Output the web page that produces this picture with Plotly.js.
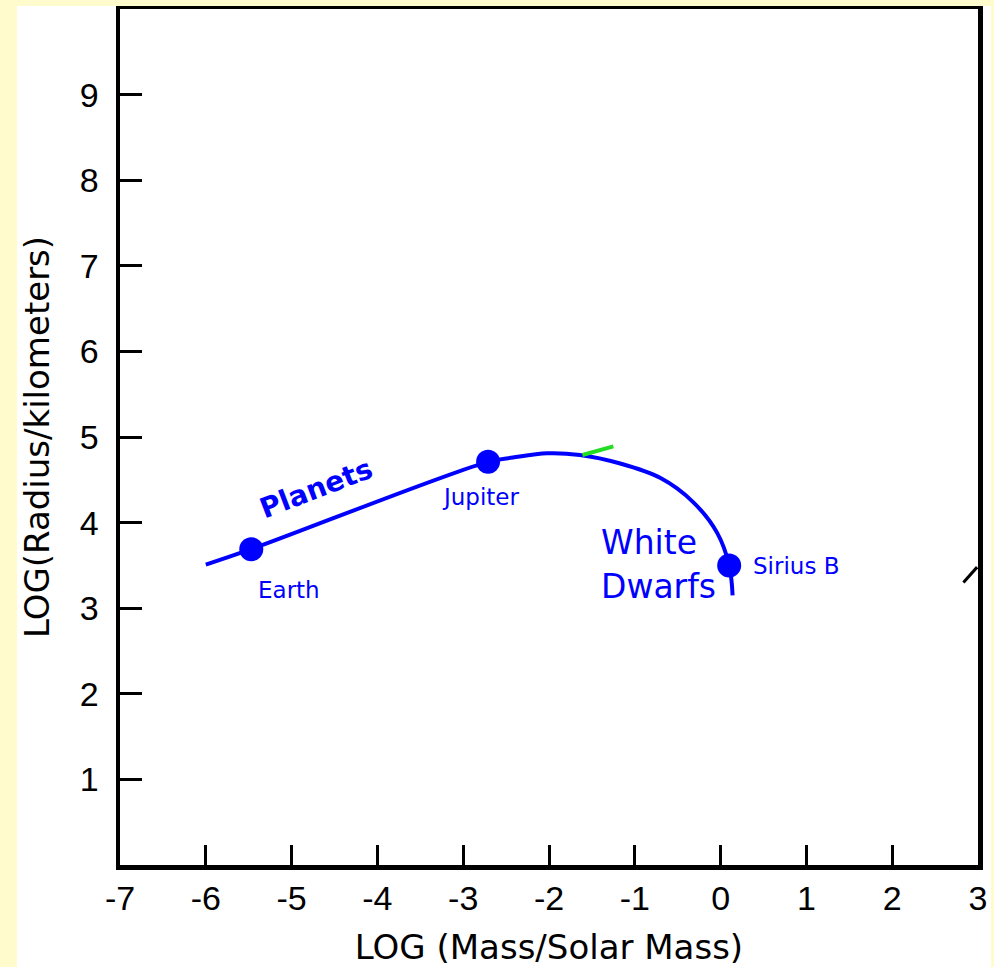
<!DOCTYPE html>
<html>
<head>
<meta charset="utf-8">
<script src="https://cdn.plot.ly/plotly-3.0.1.min.js"></script>
<style>
  html, body { margin: 0; padding: 0; background: #FFFBCC; width: 994px; height: 967px; overflow: hidden; }
  #chart { position: absolute; left: 17px; top: 6px; width: 974px; height: 961px; background: #ffffff; }
</style>
</head>
<body>
<div id="chart"></div>
<script>
// Mass-radius relation (log-log)
const curveX = [-6.0, -5.47, -2.71, -2.42, -2.02, -1.64, -1.17, -0.70, -0.32, -0.04, 0.10, 0.14];
const curveY = [3.51, 3.69, 4.71, 4.76, 4.81, 4.79, 4.69, 4.52, 4.24, 3.88, 3.50, 3.15];

const bodyNames = ['Earth', 'Jupiter', 'Sirius B'];
const bodyX = [-5.47, -2.71, 0.10];
const bodyY = [3.69, 4.71, 3.50];

// label anchor positions (data units)
const bodyLabelX = [-5.03, -2.79, 0.36];
const bodyLabelY = [3.21, 4.30, 3.49];

const regionNames = ['Planets', 'White', 'Dwarfs'];
const regionX = [-4.71, -0.84, -0.72];
const regionY = [4.40, 3.77, 3.25];

const greenX = [-1.61, -1.25];
const greenY = [4.79, 4.89];
const markX = [2.83, 2.99];
const markY = [3.30, 3.48];

const xTicks = [-7, -6, -5, -4, -3, -2, -1, 0, 1, 2, 3];
const yTicks = [1, 2, 3, 4, 5, 6, 7, 8, 9];

const BLUE = '#0000FF';

const traces = [
  { x: curveX, y: curveY, mode: 'lines', line: { color: BLUE, width: 4, shape: 'spline', smoothing: 1 }, hoverinfo: 'skip' },
  { x: greenX, y: greenY, mode: 'lines', line: { color: '#22DD22', width: 4 }, hoverinfo: 'skip' },
  { x: markX, y: markY, mode: 'lines', line: { color: '#000000', width: 3 }, hoverinfo: 'skip' },
  { x: bodyX, y: bodyY, mode: 'markers', marker: { color: BLUE, size: 24 }, text: bodyNames, hoverinfo: 'text' }
];

const annotations = [];
bodyNames.forEach((n, i) => {
  annotations.push({
    x: bodyLabelX[i], y: bodyLabelY[i], xref: 'x', yref: 'y', text: n, showarrow: false,
    xanchor: i === 2 ? 'left' : 'center', yanchor: 'middle',
    font: { family: 'DejaVu Sans', size: 23, color: BLUE }
  });
});
regionNames.forEach((n, i) => {
  annotations.push({
    x: regionX[i], y: regionY[i], xref: 'x', yref: 'y', text: i === 0 ? '<b>' + n + '</b>' : n, showarrow: false,
    xanchor: 'center', yanchor: 'middle', textangle: i === 0 ? -21 : 0,
    font: { family: 'DejaVu Sans', size: i === 0 ? 28 : 33, color: BLUE }
  });
});

const layout = {
  width: 974, height: 961,
  margin: { l: 103, r: 13, t: 3, b: 102 },
  paper_bgcolor: '#ffffff', plot_bgcolor: '#ffffff',
  showlegend: false,
  xaxis: {
    range: [-7, 3], tickvals: xTicks, ticktext: xTicks.map(String),
    ticks: 'inside', ticklen: 20, tickwidth: 3, tickcolor: '#000',
    showline: true, linewidth: 4.5, linecolor: '#000', mirror: true,
    showgrid: false, zeroline: false,
    tickfont: { family: 'Liberation Sans', size: 34, color: '#000' },
    ticklabelstandoff: 0,
    title: { text: 'LOG (Mass/Solar Mass)', font: { family: 'DejaVu Sans', size: 34, color: '#000' }, standoff: 20 }
  },
  yaxis: {
    range: [0, 10], tickvals: yTicks, ticktext: yTicks.map(String),
    ticks: 'inside', ticklen: 22, tickwidth: 3, tickcolor: '#000',
    showline: true, linewidth: 4.5, linecolor: '#000', mirror: true,
    showgrid: false, zeroline: false,
    tickfont: { family: 'Liberation Sans', size: 34, color: '#000' },
    ticklabelstandoff: 10,
    title: { text: 'LOG(Radius/kilometers)', font: { family: 'DejaVu Sans', size: 34, color: '#000' }, standoff: 22 }
  },
  annotations: annotations
};

Plotly.newPlot('chart', traces, layout, { displayModeBar: false, staticPlot: true });
</script>
</body>
</html>
